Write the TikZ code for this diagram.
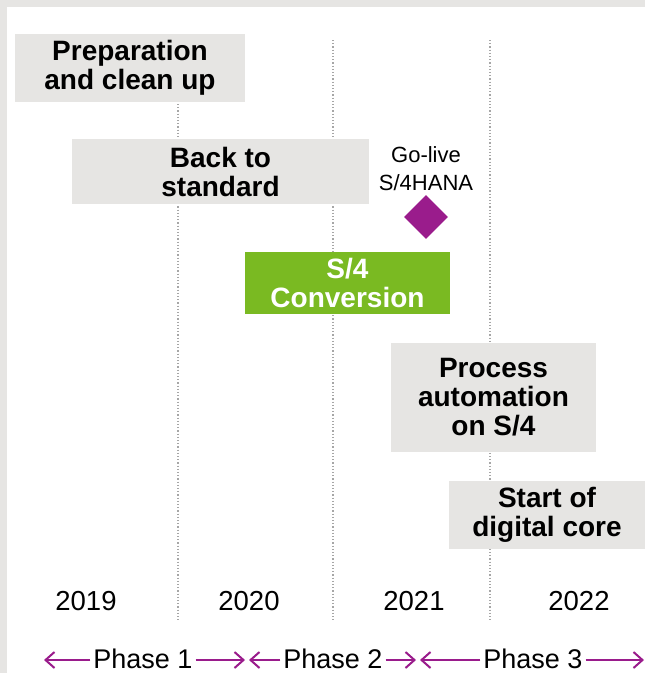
\documentclass[tikz,border=0pt]{standalone}
\usepackage{fontspec}
\setmainfont{Liberation Sans}
\usetikzlibrary{positioning, arrows.meta, shapes.geometric}
\definecolor{boxgray}{HTML}{E6E5E3}
\definecolor{convgreen}{HTML}{7ABA22}
\definecolor{golive}{HTML}{9A1C8C}

\begin{document}
\begin{tikzpicture}[x=1pt, y=-1pt,
    stepbox/.style={fill=boxgray, align=center, inner sep=0pt,
        font=\fontsize{28}{29}\selectfont\bfseries},
    yearlbl/.style={font=\fontsize{27.5}{29}\selectfont},
    phaselbl/.style={inner xsep=3pt, inner ysep=0pt, font=\fontsize{27}{28}\selectfont},
    phasearrow/.style={golive, line width=2pt, -{Straight Barb[length=9pt,width=16pt]}}]
    \useasboundingbox (0,0) rectangle (645,673);
    % frame
    \fill[boxgray] (0,0) rectangle (645,673);
    \fill[white] (7,7) rectangle (645,673);
    % year separators
    \foreach \x in {178,333,490}
        \draw[gray!70, line width=1.2pt, dotted] (\x,40) -- (\x,620);

    \node[stepbox, minimum width=230, minimum height=68] (prep) at (130,67.5) {Preparation\\and clean up};
    \node[stepbox, minimum width=297, minimum height=65] (back) at (220.5,171.5) {Back to\\standard};
    \node[stepbox, fill=convgreen, text=white, minimum width=205, minimum height=62] (conv) at (347.5,283) {S/4\\Conversion};
    \node[stepbox, minimum width=205, minimum height=109] (auto) at (493.5,397.5) {Process\\automation\\on S/4};
    \node[stepbox, minimum width=196, minimum height=68] (core) at (547,515) {Start of\\digital core};

    \node[align=center, font=\fontsize{22}{28}\selectfont] (golbl) at (426,169) {Go-live\\S/4HANA};
    \node[diamond, fill=golive, minimum size=44, inner sep=0pt] (gomark) at (426,217) {};

    \node[yearlbl] (y19) at (86,601) {2019};
    \node[yearlbl] (y20) at (249,601) {2020};
    \node[yearlbl] (y21) at (414,601) {2021};
    \node[yearlbl] (y22) at (579,601) {2022};

    % phases
    \node[phaselbl] (ph1) at (143,659) {Phase 1};
    \node[phaselbl] (ph2) at (333,659) {Phase 2};
    \node[phaselbl] (ph3) at (533,659) {Phase 3};
    \coordinate (p1a) at (44,660);
    \coordinate (p1b) at (245,660);
    \coordinate (p2a) at (249,660);
    \coordinate (p2b) at (416,660);
    \coordinate (p3a) at (420,660);
    \coordinate (p3b) at (644,660);
    \draw[phasearrow] (ph1.east |- p1b) -- (p1b);
    \draw[phasearrow] (ph1.west |- p1a) -- (p1a);
    \draw[phasearrow] (ph2.west |- p2a) -- (p2a);
    \draw[phasearrow] (ph2.east |- p2b) -- (p2b);
    \draw[phasearrow] (ph3.west |- p3a) -- (p3a);
    \draw[phasearrow] (ph3.east |- p3b) -- (p3b);
\end{tikzpicture}
\end{document}
